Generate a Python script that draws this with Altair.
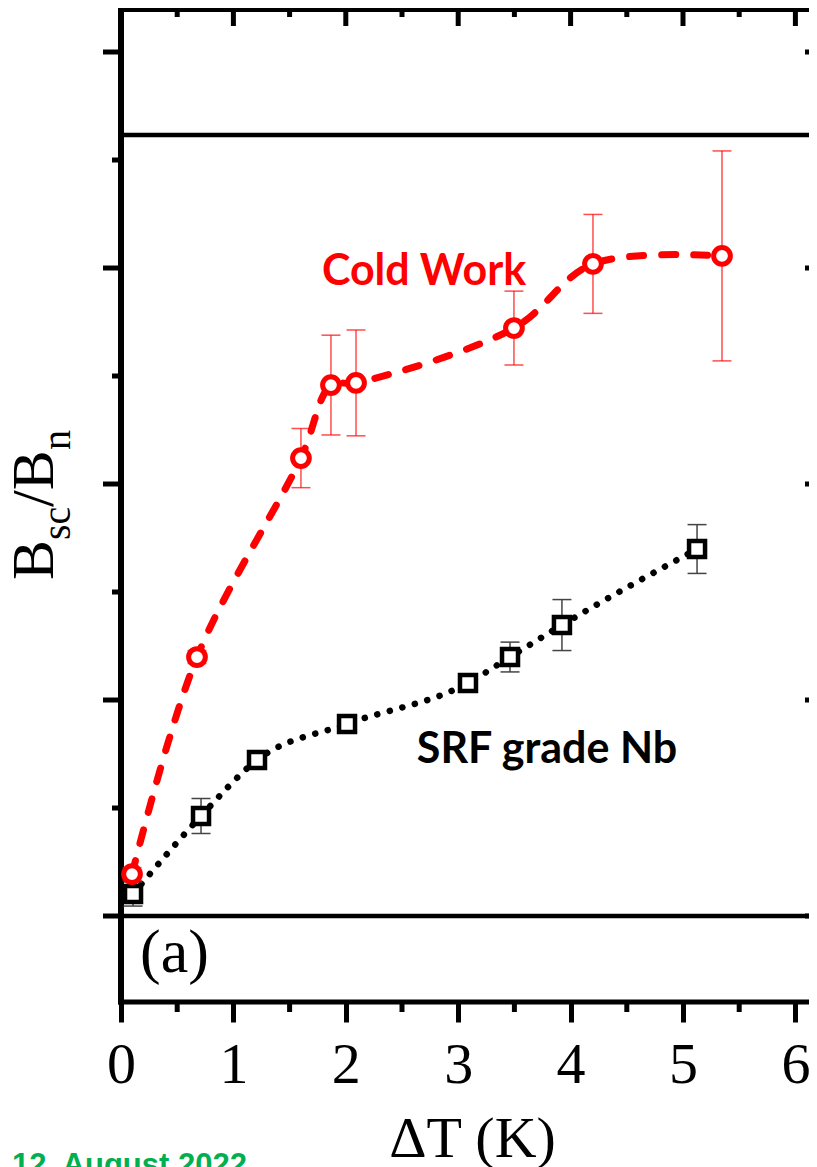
import altair as alt
import pandas as pd

# ---- data ----
cold_x = [0.098, 0.676, 1.601, 1.868, 2.091, 3.496, 4.199, 5.347]
cold_y = [1.0194, 1.1199, 1.2120, 1.2458, 1.2468, 1.2722, 1.3019, 1.3056]
cold_err = [0.003, 0.003, 0.0137, 0.0231, 0.0245, 0.0171, 0.0229, 0.0486]

srf_x = [0.107, 0.712, 1.210, 2.011, 3.087, 3.461, 3.923, 5.125]
srf_y = [1.0102, 1.0463, 1.0722, 1.0889, 1.1079, 1.1199, 1.1347, 1.1699]
srf_err = [0.0056, 0.0081, 0.003, 0.003, 0.003, 0.0069, 0.0118, 0.0113]

x_major = [0, 1, 2, 3, 4, 5, 6]
x_minor = [0.5, 1.5, 2.5, 3.5, 4.5, 5.5]
y_major = [1.0, 1.1, 1.2, 1.3, 1.4]
y_minor = [1.05, 1.15, 1.25, 1.35]
ref_lines = [1.0, 1.3616]

W, H = 680, 993          # plot area; the frame continues 8 px further right
R = W + 8                # right edge of the visible frame
X_DOMAIN = [0, W / 112.4]
Y_DOMAIN = [0.96019, 1.41991]

RED = "#ff0000"
SERIF = "Liberation Serif"

cold = pd.DataFrame({"x": cold_x, "y": cold_y,
                     "lo": [y - e for y, e in zip(cold_y, cold_err)],
                     "hi": [y + e for y, e in zip(cold_y, cold_err)]})
srf = pd.DataFrame({"x": srf_x, "y": srf_y,
                    "lo": [y - e for y, e in zip(srf_y, srf_err)],
                    "hi": [y + e for y, e in zip(srf_y, srf_err)]})

xs = alt.Scale(domain=X_DOMAIN, nice=False, zero=False)
ys = alt.Scale(domain=Y_DOMAIN, nice=False, zero=False)

xaxis = alt.Axis(values=x_major, orient="bottom", title="ΔT (K)", titleFont=SERIF, titleFontSize=58,
                 titleFontWeight="normal", titleColor="black", titleBaseline="alphabetic",
                 titleX=351, titleY=154, titleAlign="center",
                 labelFont=SERIF, labelFontSize=58, labelColor="black",
                 labelBaseline="alphabetic", labelPadding=60, labelFlush=False,
                 labelOverlap=False, tickSize=20, tickWidth=5, tickColor="black",
                 domain=False, grid=False)


def X(field):
    return alt.X(field, scale=xs, axis=xaxis)


def Y(field):
    return alt.Y(field, scale=ys, axis=None)


frame = pd.DataFrame({"k": [0]})

# reference horizontal lines
refs = alt.Chart(pd.DataFrame({"v": ref_lines})).mark_rule(color="black", strokeWidth=4.5).encode(
    y=Y("v:Q"), x=alt.value(0), x2=alt.value(R))

top_border = alt.Chart(frame).mark_rule(color="black", strokeWidth=6).encode(
    x=alt.value(-3), x2=alt.value(R), y=alt.value(0))
bottom_border = alt.Chart(frame).mark_rule(color="black", strokeWidth=5).encode(
    x=alt.value(-3), x2=alt.value(R), y=alt.value(H))
left_border = alt.Chart(frame).mark_rule(color="black", strokeWidth=6).encode(
    x=alt.value(0), y=alt.value(-3), y2=alt.value(H + 2.5))


def xticks(vals, y0, y1):
    return alt.Chart(pd.DataFrame({"v": vals})).mark_rule(color="black", strokeWidth=5).encode(
        x=X("v:Q"), y=alt.value(y0), y2=alt.value(y1))


def yticks(vals, x0, x1):
    return alt.Chart(pd.DataFrame({"v": vals})).mark_rule(color="black", strokeWidth=5).encode(
        y=Y("v:Q"), x=alt.value(x0), x2=alt.value(x1))


ticks = [
    xticks(x_minor, H, H + 10),
    xticks(x_major, 0, 17),
    xticks(x_minor, 0, 8),
    yticks(y_major, -18, 0),
    yticks(y_minor, -9, 0),
    yticks(y_major, R - 4, R + 10),
]


def series(df, color, dash, lw, interp, shape, size, sw, errcolor, erropacity):
    line = alt.Chart(df).mark_line(color=color, strokeWidth=lw, strokeDash=dash,
                                   strokeCap="round", interpolate=interp).encode(
        x=X("x:Q"), y=Y("y:Q"))
    bars = alt.Chart(df).mark_rule(color=errcolor, strokeWidth=1.5, opacity=erropacity).encode(
        x=X("x:Q"), y=Y("lo:Q"), y2="hi:Q")
    cap_lo = alt.Chart(df).mark_tick(color=errcolor, thickness=1.5, size=19, orient="horizontal",
                                     opacity=erropacity).encode(x=X("x:Q"), y=Y("lo:Q"))
    cap_hi = alt.Chart(df).mark_tick(color=errcolor, thickness=1.5, size=19, orient="horizontal",
                                     opacity=erropacity).encode(x=X("x:Q"), y=Y("hi:Q"))
    pts = alt.Chart(df).mark_point(shape=shape, size=size, filled=False, fill="white",
                                   fillOpacity=1, stroke=color, strokeWidth=sw, opacity=1).encode(
        x=X("x:Q"), y=Y("y:Q"))
    return [line, bars, cap_lo, cap_hi, pts]


srf_layers = series(srf, "black", [0.1, 12.9], 6.5, "monotone", "square", 256, 4.5, "#444444", 1)
cold_layers = series(cold, RED, [14, 18], 7, "catmull-rom", "circle", 280, 5, RED, 0.7)


def data_text(txt, x, y, **kw):
    return alt.Chart(pd.DataFrame({"x": [x], "y": [y]})).mark_text(text=txt, **kw).encode(
        x=X("x:Q"), y=Y("y:Q"))


def px_text(txt, x, y, **kw):
    return alt.Chart(frame).mark_text(text=txt, **kw).encode(x=alt.value(x), y=alt.value(y))


labels = [
    data_text("Cold Work", 2.696, 1.2921, font="Lato", fontWeight="bold", fontSize=43,
              color=RED, align="center", baseline="alphabetic"),
    data_text("SRF grade Nb", 3.79, 1.0708, font="Lato", fontWeight="bold", fontSize=43,
              color="black", align="center", baseline="alphabetic"),
    data_text("(a)", 0.17, 0.9741, font=SERIF, fontSize=62, color="black",
              align="left", baseline="alphabetic"),
    # y title  B_sc / B_n
    px_text("B", -68, 571, font=SERIF, fontSize=60, angle=270, align="left", baseline="alphabetic", color="black"),
    px_text("sc", -51, 531, font=SERIF, fontSize=40, angle=270, align="left", baseline="alphabetic", color="black"),
    px_text("/B", -68, 498, font=SERIF, fontSize=60, angle=270, align="left", baseline="alphabetic", color="black"),
    px_text("n", -51, 441, font=SERIF, fontSize=40, angle=270, align="left", baseline="alphabetic", color="black"),
    px_text("12. August 2022", -109, 1166, font="Liberation Sans", fontWeight="bold", fontSize=31,
            color="#00B050", align="left", baseline="alphabetic"),
]

chart = alt.layer(
    refs, top_border, bottom_border, left_border, *ticks, *srf_layers, *cold_layers, *labels
).properties(
    width=W, height=H,
    autosize=alt.AutoSizeParams(type="none"),
    padding={"left": 113, "top": 1, "right": 8, "bottom": 190},
).configure_view(strokeWidth=0, stroke="transparent")

chart.save("out.html", embed_options={"renderer": "svg", "actions": False})
